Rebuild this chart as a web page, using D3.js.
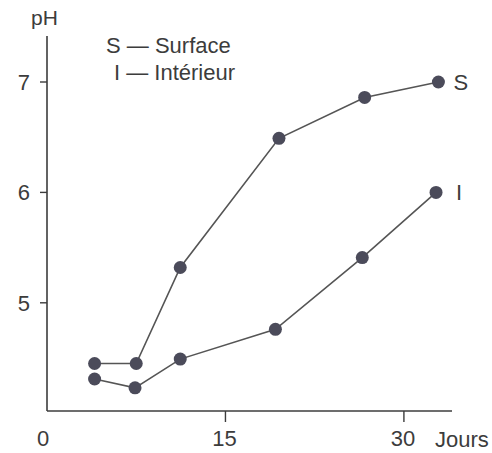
<!DOCTYPE html>
<html>
<head>
<meta charset="utf-8">
<script src="https://cdn.jsdelivr.net/npm/d3@7"></script>
<style>
  html, body { margin: 0; padding: 0; background: #fff; }
  svg { display: block; }
  text { font-family: "Liberation Sans", Arial, sans-serif; fill: #3c3c3c; }
</style>
</head>
<body>
<svg id="chart" width="492" height="453"></svg>
<script>
// Days of measurement and pH at the surface (S) and interior (I)
const daysS = [4, 7.5, 11.2, 19.5, 26.7, 32.9];
const phSurface = [4.45, 4.45, 5.32, 6.49, 6.86, 7.0];
const daysI = [4, 7.4, 11.2, 19.2, 26.5, 32.7];
const phInterior = [4.31, 4.23, 4.49, 4.76, 5.41, 6.0];
const xTicks = [0, 15, 30];
const yTicks = [5, 6, 7];
const legendItems = ["S — Surface", "I — Intérieur"];

const svg = d3.select("#chart");
const ink = "#3c3c3c";
const markColor = "#4b4b5a";
const fs = 22;

const x = d3.scaleLinear().domain([0, 36.9]).range([47, 486]);
const y = d3.scaleLinear().domain([4.02, 7.0]).range([411, 82]);

// Axis lines
svg.append("line")
  .attr("x1", x(0)).attr("x2", 452)
  .attr("y1", y(4.02)).attr("y2", y(4.02))
  .attr("stroke", ink).attr("stroke-width", 1.6);
svg.append("line")
  .attr("x1", x(0)).attr("x2", x(0))
  .attr("y1", y(4.02)).attr("y2", 36)
  .attr("stroke", ink).attr("stroke-width", 1.6);

// X ticks (downward) and labels
xTicks.forEach(t => {
  if (t > 0) {
    svg.append("line")
      .attr("x1", x(t)).attr("x2", x(t))
      .attr("y1", y(4.02)).attr("y2", y(4.02) + 11)
      .attr("stroke", ink).attr("stroke-width", 1.4);
  }
  svg.append("text")
    .attr("x", t === 0 ? x(t) - 4 : x(t) - 1)
    .attr("y", 446)
    .attr("text-anchor", "middle")
    .attr("font-size", fs)
    .text(t);
});
svg.append("text")
  .attr("x", 435).attr("y", 447)
  .attr("font-size", fs)
  .text("Jours");

// Y ticks (leftward) and labels
yTicks.forEach(t => {
  svg.append("line")
    .attr("x1", x(0) - 7).attr("x2", x(0))
    .attr("y1", y(t)).attr("y2", y(t))
    .attr("stroke", ink).attr("stroke-width", 1.4);
  svg.append("text")
    .attr("x", 30).attr("y", y(t) + 8)
    .attr("text-anchor", "end")
    .attr("font-size", fs)
    .text(t);
});
svg.append("text")
  .attr("x", 31).attr("y", 25)
  .attr("font-size", 21)
  .text("pH");

// Legend
svg.append("text").attr("x", 106).attr("y", 53).attr("font-size", fs).text(legendItems[0]);
svg.append("text").attr("x", 114).attr("y", 80).attr("font-size", fs).text(legendItems[1]);

// Series
const series = [
  { days: daysS, ph: phSurface, label: "S", dx: 15 },
  { days: daysI, ph: phInterior, label: "I", dx: 20 }
];
const line = d3.line().x(d => x(d[0])).y(d => y(d[1]));

series.forEach(s => {
  const pts = s.days.map((d, i) => [d, s.ph[i]]);
  svg.append("path")
    .datum(pts)
    .attr("d", line)
    .attr("fill", "none")
    .attr("stroke", "#555")
    .attr("stroke-width", 1.6);
  svg.selectAll(null)
    .data(pts)
    .enter().append("circle")
    .attr("cx", d => x(d[0]))
    .attr("cy", d => y(d[1]))
    .attr("r", 6.5)
    .attr("fill", markColor);
  const last = pts[pts.length - 1];
  svg.append("text")
    .attr("x", x(last[0]) + s.dx)
    .attr("y", y(last[1]) + 8)
    .attr("font-size", fs)
    .text(s.label);
});
</script>
</body>
</html>
